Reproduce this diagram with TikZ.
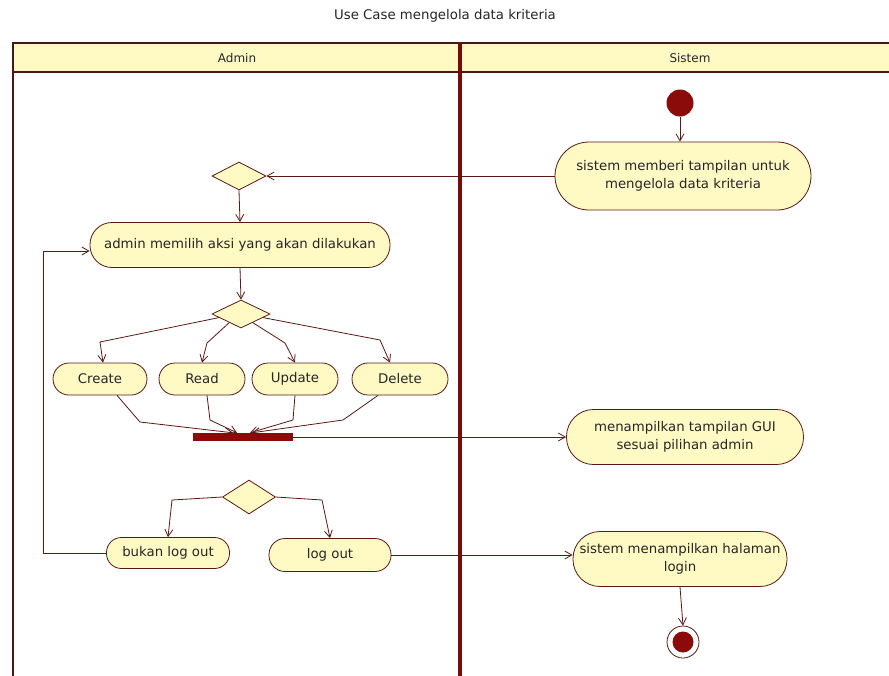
\documentclass[tikz,border=0pt]{standalone}
\usepackage{fontspec}
\setmainfont{DejaVu Sans}
\usetikzlibrary{arrows.meta,shapes.geometric,calc}
\definecolor{lanec}{HTML}{4A1810}
\definecolor{divc}{HTML}{7A0A0A}
\definecolor{edgec}{HTML}{5A1A14}
\definecolor{fillc}{HTML}{FFFAC4}
\definecolor{dotc}{HTML}{8B0A0A}
\begin{document}
\begin{tikzpicture}[x=1pt,y=-1pt,
  font=\fontsize{13.3}{18.5}\selectfont,
  act/.style={draw=edgec, fill=fillc, line width=0.8pt, align=center, inner sep=0pt, text=black!85},
  dec/.style={diamond, draw=edgec, fill=fillc, line width=0.8pt, inner sep=0pt},
  arr/.style={draw=edgec, line width=0.8pt, -{Straight Barb[length=7pt,width=8pt]}},
  hdr/.style={font=\fontsize{12}{14}\selectfont, text=black!85}]
\useasboundingbox (0,0) rectangle (889,675);
\fill[white] (0,0) rectangle (889,675);
% title
\node[text=black!85] (title) at (445,16) {Use Case mengelola data kriteria};
% swimlanes
\fill[fillc] (13,43) rectangle (889,72);
\draw[lanec, line width=2pt] (889,43) -- (13,43) -- (13,680);
\draw[lanec, line width=2pt] (13,72) -- (889,72);
\draw[divc, line width=4.5pt] (460,43) -- (460,680);
\node[hdr] (hadmin) at (237,58) {Admin};
\node[hdr] (hsistem) at (690,58) {Sistem};
% nodes
\node[circle, fill=dotc, minimum size=27pt, inner sep=0pt] (start) at (680,103) {};
\node[act, minimum width=256pt, minimum height=68pt, rounded corners=34pt] (s1) at (683,176) {sistem memberi tampilan untuk\\mengelola data kriteria};
\node[dec, minimum width=54pt, minimum height=28pt] (d1) at (239,176) {};
\node[act, minimum width=300pt, minimum height=45pt, rounded corners=22pt] (a1) at (240,245) {admin memilih aksi yang akan dilakukan};
\node[dec, minimum width=58pt, minimum height=28pt] (d2) at (241,314) {};
\node[act, minimum width=94pt, minimum height=32pt, rounded corners=16pt] (cr) at (100,379) {Create};
\node[act, minimum width=86pt, minimum height=32pt, rounded corners=16pt] (rd) at (202,379) {Read};
\node[act, minimum width=86pt, minimum height=32pt, rounded corners=16pt] (up) at (295,379) {Update};
\node[act, minimum width=96pt, minimum height=32pt, rounded corners=16pt] (de) at (400,379) {Delete};
\node[fill=dotc, minimum width=100pt, minimum height=8pt, inner sep=0pt] (bar) at (243,437) {};
\node[act, minimum width=237pt, minimum height=55pt, rounded corners=27pt] (gui) at (685,437) {menampilkan tampilan GUI\\sesuai pilihan admin};
\node[dec, minimum width=53pt, minimum height=34pt] (d3) at (249,497) {};
\node[act, minimum width=123pt, minimum height=31pt, rounded corners=15pt] (bl) at (168,553) {bukan log out};
\node[act, minimum width=122pt, minimum height=33pt, rounded corners=16pt] (lo) at (330,555) {log out};
\node[act, minimum width=214pt, minimum height=55pt, rounded corners=27pt] (login) at (680,559) {sistem menampilkan halaman\\login};
\node[circle, draw=edgec, fill=white, line width=0.8pt, minimum size=32pt, inner sep=0pt] (end) at (683,642) {};
\node[circle, fill=dotc, minimum size=21pt, inner sep=0pt] (endin) at (end) {};
% connectors
\draw[arr] (start) -- (s1.north -| start);
\draw[arr] (s1.west) -- (d1.east);
\draw[arr] (d1.south) -- (a1.north);
\draw[arr] (a1.south) -- (d2.north);
\draw[arr] ($(d2.west)!0.25!(d2.south)$) -- (100,342) -- ($(cr.north)+(3,0)$);
\draw[arr] ($(d2.west)!0.6!(d2.south)$) -- (207,343) -- (rd.north);
\draw[arr] ($(d2.east)!0.6!(d2.south)$) -- (285,343) -- (up.north);
\draw[arr] ($(d2.east)!0.25!(d2.south)$) -- (380,340) -- ($(de.north)+(-10,0)$);
\draw[arr] ($(cr.south)+(17,0)$) -- (140,422) -- ($(bar.north)+(-10,0)$);
\draw[arr] ($(rd.south)+(5,0)$) -- (210,420) -- ($(bar.north)+(-6,0)$);
\draw[arr] (up.south) -- (293,420) -- ($(bar.north)+(7,0)$);
\draw[arr] ($(de.south)+(-22,0)$) -- (343,420) -- ($(bar.north)+(9,0)$);
\draw[arr] (bar.east) -- (gui.west);
\draw[arr] (d3.west) -- (172,500) -- (bl.north);
\draw[arr] (d3.east) -- (322,500) -- (lo.north);
\coordinate (lp) at (43,251);
\draw[arr] (bl.west) -| (lp) -- (a1.west |- lp);
\draw[arr] (lo.east) -- (login.west |- lo.east);
\draw[arr] (login.south) -- (end.north);
\end{tikzpicture}
\end{document}
